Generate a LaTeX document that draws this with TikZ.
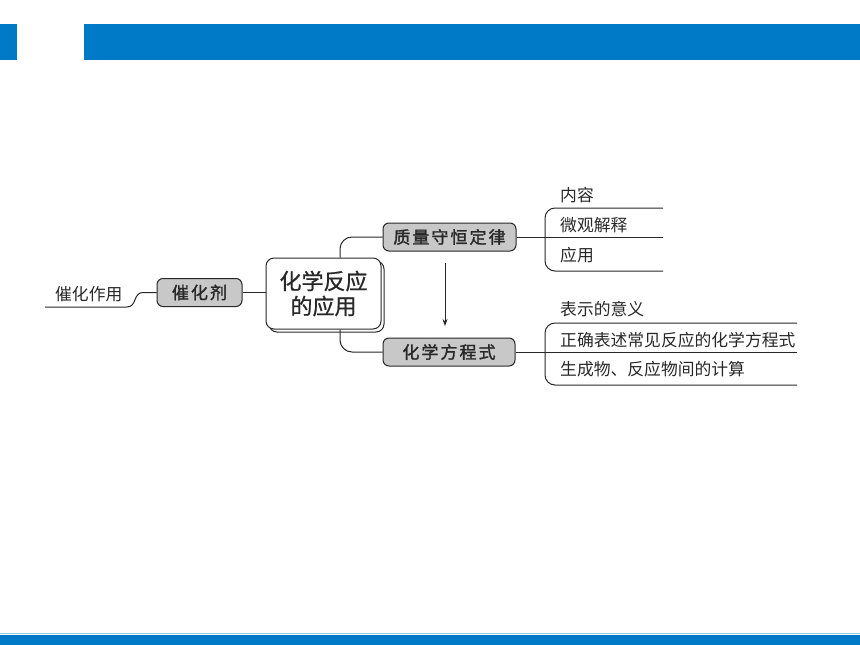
\documentclass[tikz,border=0pt]{standalone}
\usepackage{fontspec}
\newfontfamily\cjk{Noto Sans CJK SC}
\newfontfamily\cjkc[FakeBold=0.8]{Noto Sans CJK SC}
\newfontfamily\cjksp[LetterSpace=12, FakeBold=1.6]{Noto Sans CJK SC}
\usetikzlibrary{arrows.meta,shadows}
\definecolor{barblue}{RGB}{0,122,199}
\definecolor{nodegray}{RGB}{200,200,200}
\definecolor{ink}{RGB}{40,40,40}
\tikzset{
  conn/.style={draw=ink, line width=1pt},
  topic/.style={draw=ink, line width=1pt, fill=nodegray, rounded corners=6pt,
    inner sep=0pt, minimum height=28pt, text=ink, font=\cjksp\fontsize{17}{17}\selectfont},
  core/.style={draw=ink, line width=1pt, fill=white, rounded corners=8pt,
    minimum width=115pt, minimum height=71pt, inner sep=0pt, align=center, text=ink,
    font=\cjkc\fontsize{22}{25}\selectfont,
    copy shadow={shadow xshift=3pt, shadow yshift=-3pt}},
  leaf/.style={anchor=west, inner sep=0pt, text=ink, font=\cjk\fontsize{16.8}{16.8}\selectfont}
}
\begin{document}
\begin{tikzpicture}[x=1pt,y=-1pt]
\useasboundingbox (0,0) rectangle (860,645);
% bars
\fill[barblue] (0,24) rectangle (17,60);
\fill[barblue] (84,24) rectangle (860,60);
\fill[barblue] (0,635) rectangle (860,645);
\draw[barblue!40, line width=0.6pt] (0,633.5) -- (860,633.5);
% nodes
\node[core] (center) at (323.5,293.5) {化学反应\\的应用};
\node[topic, minimum width=85pt] (cat) at (199.5,292.5) {催化剂};
\node[topic, minimum width=133pt] (mass) at (449.5,237) {质量守恒定律};
\node[topic, minimum width=132pt] (eq) at (449,352) {化学方程式};
% leaves
\node[leaf] (l0) at (55,294) {催化作用};
\node[leaf] (m1) at (560,195) {内容};
\node[leaf] (m2) at (560,225) {微观解释};
\node[leaf] (m3) at (560,255) {应用};
\node[leaf] (e1) at (560,309) {表示的意义};
\node[leaf] (e2) at (560,340) {正确表述常见反应的化学方程式};
\node[leaf] (e3) at (560,369) {生成物、反应物间的计算};
% coordinates
\coordinate (lend) at (45,307);
\coordinate (mend) at (663,237);
\coordinate (mtop) at (663,208);
\coordinate (mbot) at (663,271);
\coordinate (eend) at (797,352);
\coordinate (etop) at (797,323);
\coordinate (ebot) at (797,385);
\coordinate (astart) at (445,263);
\coordinate (aend) at (445,326);
% connectors
\draw[conn] (cat.east) -- (cat.east -| center.west);
\draw[conn] (lend) -- (127,307) .. controls (137,307) and (133,292.5) .. (143,292.5) -- (cat.west);
\draw[conn, rounded corners=12pt] ([xshift=16.5pt]center.north) |- (mass.west);
\draw[conn, rounded corners=12pt] ([xshift=16.5pt]center.south) |- (eq.west);
\draw[conn] (mass.east) -- (mend);
\draw[conn, rounded corners=10pt] (mtop) -- (545,208) -- (545,271) -- (mbot);
\draw[conn] (eq.east) -- (eend);
\draw[conn, rounded corners=10pt] (etop) -- (545,323) -- (545,385) -- (ebot);
\draw[conn, line width=0.9pt, -{Stealth[length=7pt,width=5pt]}] (astart) -- (aend);
\end{tikzpicture}
\end{document}
